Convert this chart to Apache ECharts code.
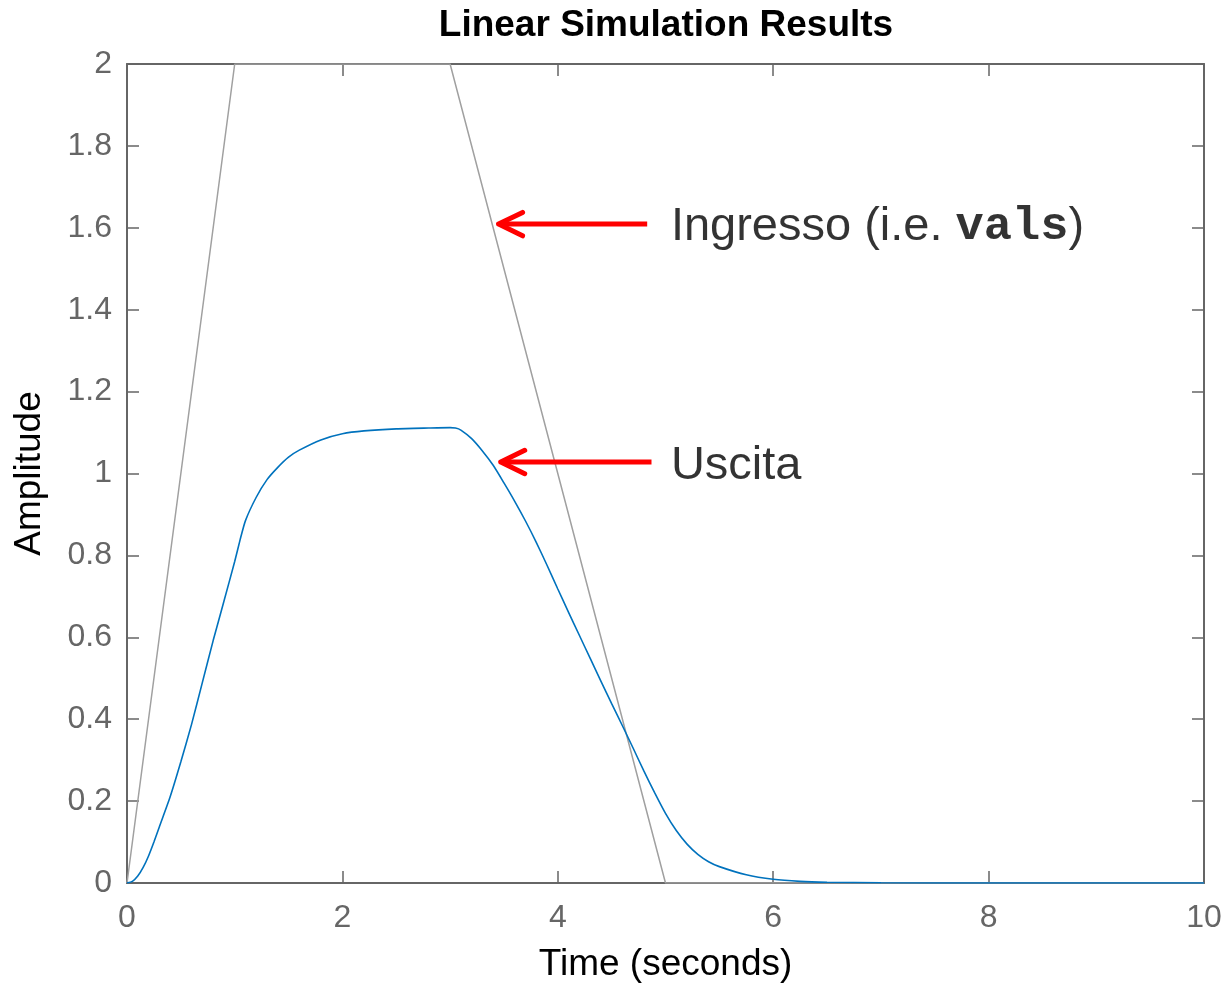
<!DOCTYPE html>
<html>
<head>
<meta charset="utf-8">
<script src="https://cdn.jsdelivr.net/npm/echarts@6/dist/echarts.min.js"></script>
<style>html,body{margin:0;padding:0;background:#fff;}#c{width:1227px;height:988px;}</style>
</head>
<body>
<div id="c"></div>
<script>
// Input signal (vals)
var inputT = [0, 1, 3, 5, 10];
var inputY = [0, 2, 2, 0, 0];
// Output response (Uscita)
var outT = [0,0.05,0.1,0.15,0.2,0.25,0.3,0.4,0.5,0.6,0.7,0.8,0.9,1.0,1.05,1.1,1.2,1.3,1.4,1.5,1.6,1.8,2.0,2.2,2.5,2.8,3.0,3.05,3.1,3.2,3.3,3.4,3.5,3.6,3.7,3.8,3.9,4.0,4.1,4.2,4.3,4.4,4.5,4.6,4.7,4.8,4.9,5.0,5.1,5.2,5.3,5.4,5.5,5.75,6.0,6.25,6.5,7.0,8.0,9.0,10.0];
var outY = [0,0.004,0.017,0.038,0.066,0.1,0.137,0.21,0.296,0.388,0.49,0.592,0.688,0.785,0.838,0.885,0.942,0.985,1.015,1.04,1.057,1.082,1.097,1.104,1.109,1.111,1.112,1.111,1.106,1.085,1.055,1.02,0.977,0.932,0.884,0.832,0.776,0.718,0.661,0.605,0.549,0.493,0.438,0.384,0.329,0.273,0.22,0.17,0.128,0.095,0.07,0.052,0.04,0.02,0.009,0.004,0.002,0.0005,0,0,0];
// Tick values
var xTicks = [0, 2, 4, 6, 8, 10];
var yTicks = [0, 0.2, 0.4, 0.6, 0.8, 1, 1.2, 1.4, 1.6, 1.8, 2];
// Annotations (data coords)
var annIngresso = {tip: 3.45, tail: 4.83, y: 1.609, textT: 5.05, textY: 1.602};
var annUscita = {tip: 3.47, tail: 4.87, y: 1.028, textT: 5.05, textY: 1.018};
var headDT = 0.223, headDY = 0.0285;

function zip(a, b) { return a.map(function (v, i) { return [v, b[i]]; }); }

function arrowSeries(a) {
  return [
    {type: 'line', data: [[a.tail, a.y], [a.tip + 0.02, a.y]], symbol: 'none', silent: true, z: 5,
     lineStyle: {color: '#ff0000', width: 5, cap: 'butt'}},
    {type: 'line', data: [[a.tip + headDT, a.y + headDY], [a.tip, a.y], [a.tip + headDT, a.y - headDY]], symbol: 'none', silent: true, z: 5,
     lineStyle: {color: '#ff0000', width: 5, cap: 'round', join: 'round'}}
  ];
}

var axisCol = '#666666';
var chart = echarts.init(document.getElementById('c'));
var common = {
  min: 0, axisLine: {show: true, onZero: false, lineStyle: {color: axisCol, width: 2}},
  axisTick: {show: true, inside: true, length: 12, lineStyle: {color: axisCol, width: 1.5}},
  splitLine: {show: false}
};
var option = {
  backgroundColor: '#ffffff',
  animation: false,
  title: {
    text: 'Linear Simulation Results', left: 661, top: 2, textAlign: 'center',
    textStyle: {fontFamily: 'Liberation Sans', fontWeight: 'bold', fontSize: 37, color: '#000'}
  },
  grid: {left: 127, right: 23, top: 64, bottom: 103, containLabel: false},
  xAxis: [
    Object.assign({}, common, {
      type: 'value', position: 'bottom', max: 10, interval: 2,
      name: 'Time (seconds)', nameLocation: 'middle', nameGap: 63,
      nameTextStyle: {fontFamily: 'Liberation Sans', fontSize: 37, color: '#000'},
      axisLabel: {margin: 19, fontFamily: 'Liberation Sans', fontSize: 32, color: '#666',
        formatter: function (v) { return xTicks.indexOf(v) >= 0 ? String(v) : ''; }}
    }),
    Object.assign({}, common, {type: 'value', position: 'top', max: 10, interval: 2, axisLabel: {show: false}})
  ],
  yAxis: [
    Object.assign({}, common, {
      type: 'value', position: 'left', max: 2, interval: 0.2,
      name: 'Amplitude', nameLocation: 'middle', nameGap: 79,
      nameTextStyle: {fontFamily: 'Liberation Sans', fontSize: 37, color: '#000'},
      axisLabel: {margin: 15, fontFamily: 'Liberation Sans', fontSize: 32, color: '#666',
        formatter: function (v) {
          var r = Math.round(v * 10) / 10;
          return yTicks.indexOf(r) >= 0 ? String(r) : '';
        }}
    }),
    Object.assign({}, common, {type: 'value', position: 'right', max: 2, interval: 0.2, axisLabel: {show: false}})
  ],
  series: [
    {type: 'line', name: 'Ingresso', data: zip(inputT, inputY), symbol: 'none', z: 3,
     lineStyle: {color: '#a0a0a0', width: 1.5}},
    {type: 'line', name: 'Uscita', data: zip(outT, outY), symbol: 'none', smooth: 0.2, z: 4,
     lineStyle: {color: '#0072BD', width: 1.6}},
    {type: 'scatter', data: [[annIngresso.textT, annIngresso.textY]], symbolSize: 0, silent: true, z: 6,
     label: {show: true, position: 'right', distance: 0, color: '#000',
       formatter: '{a|Ingresso (i.e. }{b|vals}{a|)}',
       rich: {a: {fontFamily: 'Liberation Sans', fontSize: 47, color: '#000'},
              b: {fontFamily: 'Liberation Mono', fontWeight: 'bold', fontSize: 47, color: '#000'}}}},
    {type: 'scatter', data: [[annUscita.textT, annUscita.textY]], symbolSize: 0, silent: true, z: 6,
     label: {show: true, position: 'right', distance: 0, formatter: 'Uscita',
       fontFamily: 'Liberation Sans', fontSize: 47, color: '#000'}}
  ].concat(arrowSeries(annIngresso)).concat(arrowSeries(annUscita))
};
chart.setOption(option);
</script>
</body>
</html>
